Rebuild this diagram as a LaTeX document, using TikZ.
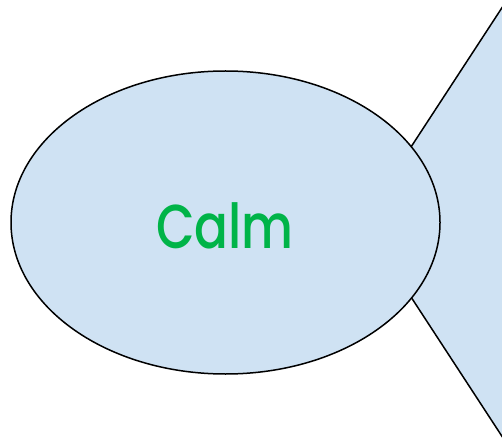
\documentclass[tikz,border=0pt]{standalone}
\usepackage{fontspec}
\usetikzlibrary{shapes.geometric}
\newfontfamily\calmfont{Poppins}[UprightFont=* Medium]
\definecolor{paleblue}{RGB}{207,226,243}
\definecolor{calmgreen}{RGB}{0,180,72}
\begin{document}
\begin{tikzpicture}[x=1pt,y=-1pt,
  shapeline/.style={draw=black,line width=1.5pt,fill=paleblue,line join=miter}]
\useasboundingbox (0,0) rectangle (502,443);
% kite-shaped body extending past the right edge
\begin{scope}
\clip (0,0) rectangle (502,443);
\draw[shapeline] (362,222) coordinate (tip) -- (507,0) -- (620,222) -- (507,444) -- cycle;
\end{scope}
% head
\node[shapeline,ellipse,minimum width=429,minimum height=303,inner sep=0] (head) at (225.5,222.5) {};
\node[text=calmgreen,font=\calmfont\fontsize{50}{56}\selectfont,yscale=1.24] (label) at (225,226) {Calm};
\end{tikzpicture}
\end{document}
